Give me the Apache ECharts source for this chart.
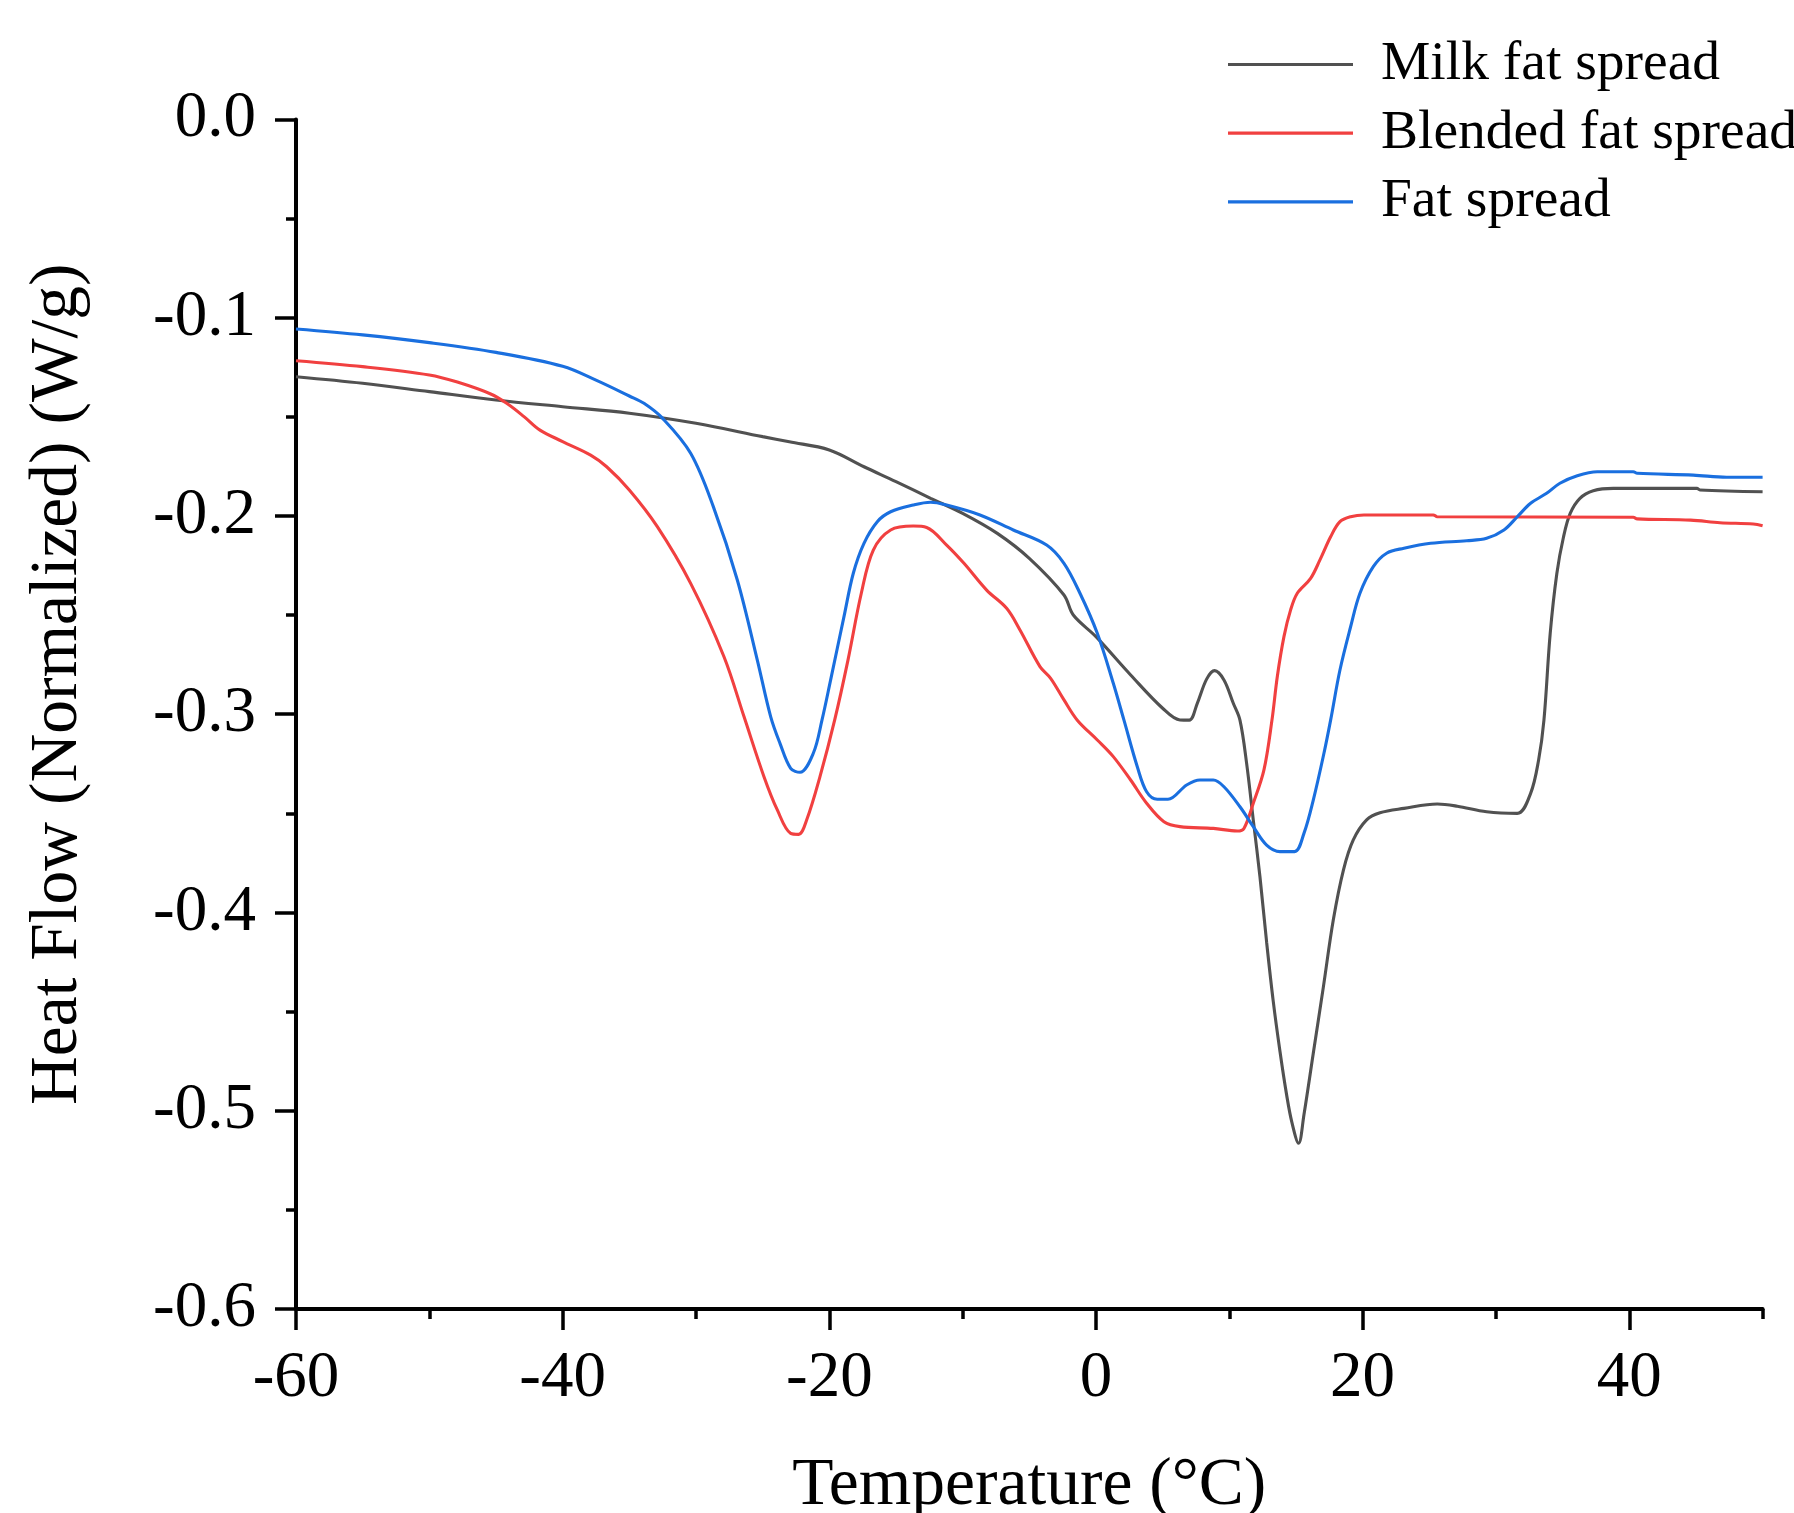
<!DOCTYPE html>
<html>
<head>
<meta charset="utf-8">
<script src="https://cdn.jsdelivr.net/npm/echarts@6/dist/echarts.min.js"></script>
<style>
html,body{margin:0;padding:0;background:#fff;}
#chart{width:1794px;height:1513px;}
</style>
</head>
<body>
<div id="chart"></div>
<script>
const seriesNames = ['Milk fat spread', 'Blended fat spread', 'Fat spread'];
const xTicksMajor = [-60, -40, -20, 0, 20, 40];
const xTicksMinor = [-50, -30, -10, 10, 30, 50];

const milkT = [-60,-55,-50,-45,-40,-35,-30,-25,-23,-20,-17.4,-15,-12.4,-10,-7.4,-5,-2.4,-1.7,0,2.6,5,6.3,7.0,7.6,8.3,8.9,9.6,10.3,10.8,11.3,11.8,12.3,12.8,13.3,13.8,14.3,14.7,15.2,15.6,16.3,17.06,17.8,18.56,19.3,20.3,21.3,23.1,25.6,27.1,29.3,31.6,32.6,33.2,33.6,34.07,34.57,35.07,35.57,36.3,37.3,38.8,45.07,45.3,50];
const milkV = [-0.1298,-0.1331,-0.1373,-0.1415,-0.1449,-0.1482,-0.1533,-0.16,-0.1626,-0.1667,-0.1752,-0.1827,-0.1911,-0.1987,-0.2088,-0.2214,-0.2399,-0.25,-0.2609,-0.2802,-0.297,-0.3029,-0.303,-0.2945,-0.2823,-0.278,-0.2827,-0.2945,-0.303,-0.3248,-0.3534,-0.382,-0.415,-0.445,-0.47,-0.492,-0.506,-0.5164,-0.502,-0.471,-0.4374,-0.4038,-0.3786,-0.3634,-0.3533,-0.3497,-0.3475,-0.3453,-0.3464,-0.3492,-0.35,-0.3399,-0.3231,-0.303,-0.2592,-0.2289,-0.2105,-0.1987,-0.1911,-0.1873,-0.1861,-0.1861,-0.1869,-0.1878];

const blendT = [-60,-55,-50,-47.9,-45.4,-44.2,-42.9,-41.7,-40,-37.9,-36.7,-35,-32.9,-30.4,-27.9,-26.4,-24.9,-23.9,-22.9,-22.3,-21.7,-20.7,-19.6,-18.6,-17.6,-16.7,-15.4,-13.7,-12.7,-11.2,-9.9,-8.2,-6.7,-5.7,-4.2,-3.4,-2.4,-1.4,0.1,1.3,2.6,3.8,5.1,6.3,8.8,10.6,11.1,11.8,12.6,13.2,13.6,14.1,14.6,15.1,16.1,16.8,17.6,18.3,19.1,20.1,25.3,25.6,40.3,40.6,44.6,46.8,49.3,50];
const blendV = [-0.1217,-0.1247,-0.1289,-0.1325,-0.1385,-0.1432,-0.1499,-0.1567,-0.1625,-0.1693,-0.1752,-0.1869,-0.2054,-0.234,-0.271,-0.3012,-0.3315,-0.3483,-0.3601,-0.3606,-0.3534,-0.3315,-0.303,-0.2727,-0.239,-0.2172,-0.2071,-0.2051,-0.2058,-0.2147,-0.2239,-0.2374,-0.2466,-0.2575,-0.276,-0.2819,-0.2928,-0.303,-0.313,-0.3214,-0.3332,-0.3449,-0.3542,-0.3567,-0.3576,-0.3589,-0.3576,-0.3449,-0.3281,-0.303,-0.2811,-0.2609,-0.2474,-0.239,-0.2315,-0.2222,-0.2105,-0.2029,-0.2004,-0.1995,-0.1995,-0.2004,-0.2007,-0.2015,-0.2021,-0.2034,-0.2041,-0.205];

const fatT = [-60,-55,-50,-45,-40,-37.5,-35,-33.9,-32.5,-30.4,-28.7,-26.9,-25.4,-24.4,-23.7,-22.9,-22.2,-21.2,-20.55,-19.9,-18.9,-18.2,-17.4,-16.4,-15.4,-13.7,-12.4,-11.2,-8.7,-6.2,-3.7,-2.4,-1.2,0.1,1.3,2.1,3.1,3.8,4.6,5.4,6.8,7.8,8.8,9.6,10.8,11.8,12.8,13.8,14.9,15.6,16.3,17.1,17.6,18.3,19.1,19.8,20.8,21.8,23.1,25.1,27.8,29.3,30.6,31.6,32.6,33.8,34.8,36.1,37.6,40.3,40.6,44.8,47.3,50];
const fatV = [-0.1057,-0.1087,-0.1126,-0.1175,-0.1245,-0.1315,-0.1395,-0.1432,-0.1508,-0.1684,-0.1953,-0.2323,-0.2727,-0.3012,-0.3147,-0.3273,-0.3293,-0.3197,-0.303,-0.2827,-0.2508,-0.2289,-0.2138,-0.2029,-0.1979,-0.1945,-0.1931,-0.1945,-0.1995,-0.2071,-0.2147,-0.2239,-0.239,-0.2592,-0.2844,-0.303,-0.3265,-0.3391,-0.3429,-0.3429,-0.3357,-0.3332,-0.3332,-0.3366,-0.3467,-0.3567,-0.366,-0.3693,-0.3693,-0.3601,-0.3433,-0.3197,-0.303,-0.2777,-0.2559,-0.239,-0.2256,-0.2188,-0.2163,-0.2138,-0.2125,-0.2113,-0.2071,-0.2004,-0.1936,-0.1886,-0.1835,-0.1797,-0.1777,-0.1777,-0.1785,-0.1794,-0.1805,-0.1805];

const colors = ['#515151', '#F14040', '#1A6FDF'];
const FONT = 'Liberation Serif, Times New Roman, serif';

function zip(xs, ys) { return xs.map((x, i) => [x, ys[i]]); }

const chart = echarts.init(document.getElementById('chart'), null, {renderer: 'canvas'});

const tickStyle = {color: '#000', width: 3.5};

function lineSeries(i, ts, vs) {
  return {
    name: seriesNames[i], type: 'line', xAxisIndex: 0, data: zip(ts, vs),
    symbol: 'none', smooth: 0.35,
    lineStyle: {color: colors[i], width: 3.1}, itemStyle: {color: colors[i]}
  };
}

const option = {
  animation: false,
  backgroundColor: '#fff',
  color: colors,
  grid: {left: 296, right: 31.4, top: 119.4, bottom: 204, containLabel: false, outerBoundsMode: 'none'},
  legend: {
    orient: 'vertical',
    left: 1228,
    top: 34.5,
    padding: 0,
    itemWidth: 125,
    itemHeight: 20,
    itemGap: 8.7,
    icon: 'path://M0,8.4 L125,8.4 L125,11.6 L0,11.6 Z',
    textStyle: {fontFamily: FONT, fontSize: 55.5, color: '#000', lineHeight: 60, padding: [0, 0, 0, 23]},
    data: seriesNames
  },
  xAxis: [
    {
      type: 'value', min: -60, max: 50, interval: 20,
      position: 'bottom',
      name: 'Temperature (°C)', nameLocation: 'middle', nameGap: 143,
      nameTextStyle: {fontFamily: FONT, fontSize: 67.5, color: '#000'},
      axisLine: {show: true, onZero: false, lineStyle: {color: '#000', width: 4}},
      axisTick: {show: true, inside: false, length: 21, lineStyle: tickStyle, customValues: xTicksMajor},
      axisLabel: {show: true, margin: 37, fontFamily: FONT, fontSize: 65, color: '#000', customValues: xTicksMajor,
                  formatter: v => String(v)},
      splitLine: {show: false}
    },
    {
      type: 'value', min: -60, max: 50, interval: 10,
      position: 'bottom', gridIndex: 0,
      axisLine: {show: false, onZero: false},
      axisTick: {show: true, inside: false, length: 10, lineStyle: tickStyle, customValues: xTicksMinor},
      axisLabel: {show: false},
      splitLine: {show: false}
    }
  ],
  yAxis: {
    type: 'value', min: -0.6, max: 0, interval: 0.1,
    name: 'Heat Flow (Normalized) (W/g)', nameLocation: 'middle', nameGap: 204, nameRotate: 90,
    nameTextStyle: {fontFamily: FONT, fontSize: 67.5, color: '#000', padding: [0, 0, 0, 60]},
    axisLine: {show: true, onZero: false, lineStyle: {color: '#000', width: 4}},
    axisTick: {show: true, inside: false, length: 21, lineStyle: tickStyle},
    minorTick: {show: true, splitNumber: 2, length: 10, lineStyle: tickStyle},
    axisLabel: {margin: 40, fontFamily: FONT, fontSize: 65, color: '#000', formatter: v => v.toFixed(1)},
    splitLine: {show: false},
    minorSplitLine: {show: false}
  },
  series: [
    lineSeries(0, milkT, milkV),
    lineSeries(1, blendT, blendV),
    lineSeries(2, fatT, fatV)
  ]
};
chart.setOption(option);
</script>
</body>
</html>
